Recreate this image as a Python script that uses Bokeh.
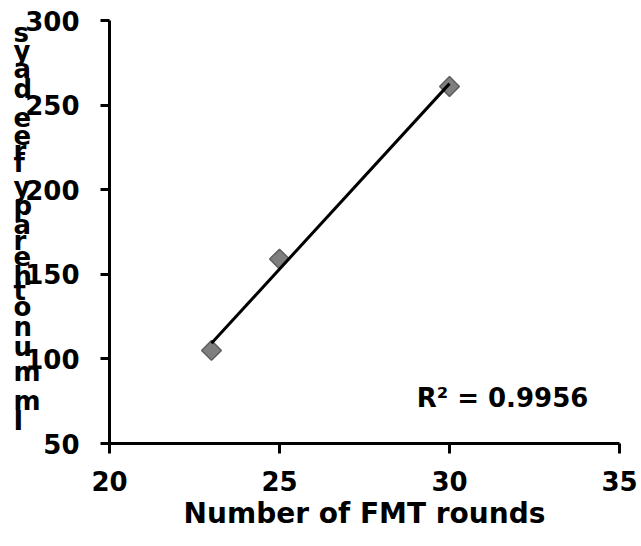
import numpy as np
from bokeh.plotting import figure
from bokeh.models import Range1d, FixedTicker, Label
from bokeh.embed import file_html
from bokeh.resources import INLINE

# ---- data ----
fmt_rounds = [23, 25, 30]
free_days = [105, 159, 261]
x_ticks = [20, 25, 30, 35]
y_ticks = [50, 100, 150, 200, 250, 300]
y_title = "Immunotherapy free days"
x_title = "Number of FMT rounds"
r2_text = "R\u00b2 = 0.9956"

FONT = "DejaVu Sans"
FS = "26px"

# ---- layout (pixels) ----
W, H = 641, 546
AX_LEFT, AX_RIGHT, AX_TOP, AX_BOTTOM = 109, 619, 20, 443
sx = (AX_RIGHT - AX_LEFT) / (x_ticks[-1] - x_ticks[0])
sy = (AX_BOTTOM - AX_TOP) / (y_ticks[-1] - y_ticks[0])
x_range = Range1d(x_ticks[0] - AX_LEFT / sx, x_ticks[0] + (W - AX_LEFT) / sx)
y_range = Range1d(y_ticks[0] - (H - AX_BOTTOM) / sy, y_ticks[0] + AX_BOTTOM / sy)

p = figure(width=W, height=H, output_backend="svg", toolbar_location=None,
           x_range=x_range, y_range=y_range,
           frame_width=W, frame_height=H,
           min_border_left=0, min_border_right=0, min_border_top=0,
           min_border_bottom=0)
p.background_fill_color = "white"
p.border_fill_color = "white"
p.outline_line_color = None
p.grid.visible = False

for ax, ticks in ((p.xaxis, x_ticks), (p.yaxis, y_ticks)):
    ax.ticker = FixedTicker(ticks=ticks)
    ax.bounds = (ticks[0], ticks[-1])
    ax.minor_tick_line_color = None
    ax.axis_line_color = "black"
    ax.axis_line_width = 3
    ax.major_tick_line_color = "black"
    ax.major_tick_line_width = 3
    ax.major_tick_in = 0
    ax.major_label_text_font = FONT
    ax.major_label_text_font_style = "bold"
    ax.major_label_text_font_size = FS
    ax.major_label_text_color = "black"

p.xaxis.fixed_location = y_ticks[0]
p.xaxis.major_tick_out = 10
p.xaxis.major_label_standoff = 17
p.xaxis.axis_label = x_title
p.xaxis.axis_label_text_font = FONT
p.xaxis.axis_label_text_font_style = "bold"
p.xaxis.axis_label_text_font_size = "28px"
p.xaxis.axis_label_text_color = "black"
p.xaxis.axis_label_standoff = 3

p.yaxis.fixed_location = x_ticks[0]
p.yaxis.major_tick_out = 9
p.yaxis.major_label_standoff = 21

# markers
p.scatter(fmt_rounds, free_days, marker="square", angle=np.pi / 4, size=14,
          fill_color="#7f7f7f", line_color="#5e5e5e", line_width=1.5)

# linear trendline
slope, intercept = np.polyfit(fmt_rounds, free_days, 1)
tx = np.array([min(fmt_rounds), max(fmt_rounds)], dtype=float)
p.line(tx, slope * tx + intercept, line_color="black", line_width=3)

p.add_layout(Label(x=31.56, y=77, text=r2_text, text_align="center",
                   text_baseline="middle", text_font=FONT, text_font_style="bold",
                   text_font_size=FS, text_color="black"))

# stacked (glitched) y-axis title, letters upright, bottom to top
em = {"I": .278, "m": .889, "u": .611, "n": .611, "o": .611, "t": .333, "h": .611,
      "e": .556, "r": .389, "a": .556, "p": .611, "y": .556, " ": .278, "f": .333,
      "d": .611, "s": .556}
scale = 33.0
pos = 23.0  # pixels above the x axis for the first letter centre
prev = None
for ch in y_title:
    if prev is not None:
        pos += (em.get(prev, .556) + em.get(ch, .556)) / 2 * scale
    prev = ch
    if ch == " ":
        continue
    p.add_layout(Label(x=x_ticks[0], y=y_ticks[0] + pos / sy, x_offset=-96,
                       text=ch, text_align="left", text_baseline="middle",
                       text_font=FONT, text_font_style="bold", text_font_size=FS,
                       text_color="black"))

open("out.html", "w").write(file_html(p, INLINE))
